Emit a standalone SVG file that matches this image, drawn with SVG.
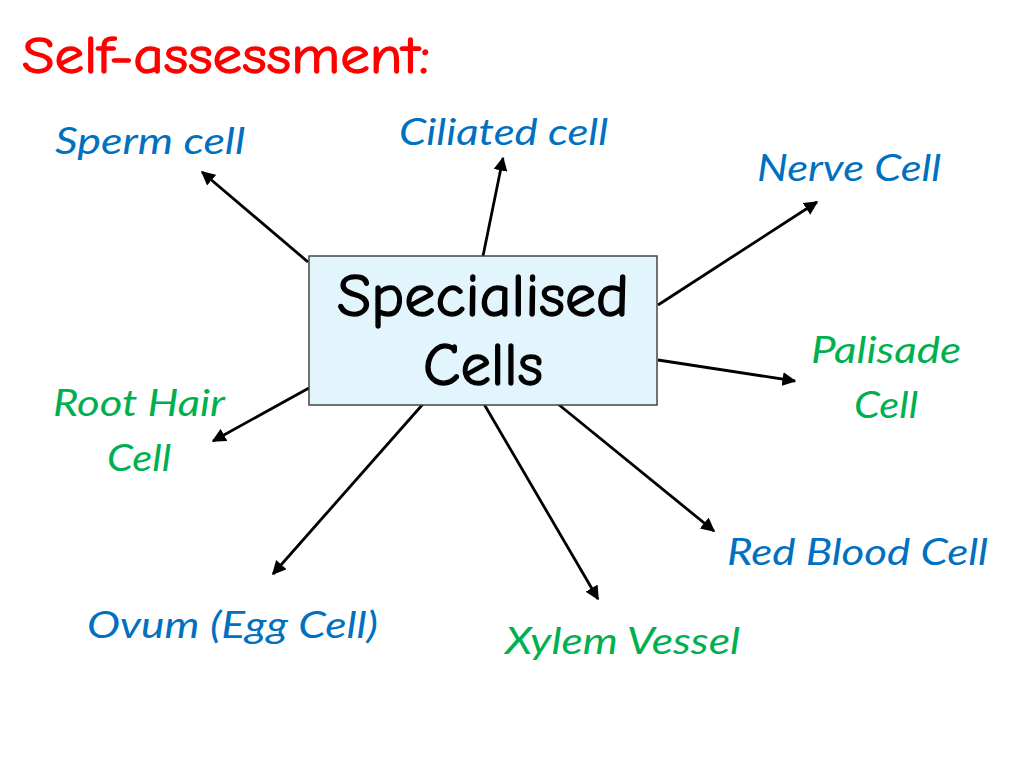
<svg xmlns="http://www.w3.org/2000/svg" width="1024" height="768" viewBox="0 0 1024 768">
<style>
.lbl{font-family:Lato,"Open Sans","Liberation Sans",sans-serif;font-style:italic;font-size:37px}
.blue{fill:#0070c0}
.green{fill:#00b050}
.title{font-family:"Comic Neue","DejaVu Sans","Liberation Sans",sans-serif;font-size:52px;fill:#ff0000;stroke:#ff0000;stroke-width:1.3}
.big{font-family:"Comic Neue","DejaVu Sans","Liberation Sans",sans-serif;font-size:60px;fill:#000;stroke:#000;stroke-width:1.4}
.conn{stroke:#000;stroke-width:2.8;fill:none;marker-end:url(#ah)}
</style>
<defs>
<marker id="ah" viewBox="0 0 10 10" refX="9" refY="5" markerWidth="5" markerHeight="5" orient="auto" markerUnits="strokeWidth">
<path d="M0,0 L10,5 L0,10 Z" fill="#000"/>
</marker>
</defs>
<rect width="1024" height="768" fill="#fff"/>
<text class="title" x="22" y="73" textLength="408" lengthAdjust="spacingAndGlyphs">Self-assessment:</text>
<g id="connectors">
<line class="conn" x1="308" y1="262" x2="202" y2="172"/>
<line class="conn" x1="483" y1="256" x2="503" y2="158"/>
<line class="conn" x1="658" y1="305" x2="817" y2="202"/>
<line class="conn" x1="658" y1="360" x2="795" y2="381"/>
<line class="conn" x1="309" y1="388" x2="213" y2="441"/>
<line class="conn" x1="423" y1="404" x2="273" y2="574"/>
<line class="conn" x1="484" y1="404" x2="598" y2="599"/>
<line class="conn" x1="558" y1="404" x2="714" y2="531"/>
</g>
<g id="center">
<rect x="309" y="256" width="348" height="149" fill="#e3f5fc" stroke="#444" stroke-width="1.5"/>
<text class="big" x="483" y="316" text-anchor="middle" textLength="292" lengthAdjust="spacingAndGlyphs">Specialised</text>
<text class="big" x="483" y="385" text-anchor="middle" textLength="120" lengthAdjust="spacingAndGlyphs">Cells</text>
</g>
<g id="sperm"><text class="lbl blue" x="55" y="154" textLength="190" lengthAdjust="spacingAndGlyphs">Sperm cell</text></g>
<g id="ciliated"><text class="lbl blue" x="399" y="145" textLength="209" lengthAdjust="spacingAndGlyphs">Ciliated cell</text></g>
<g id="nerve"><text class="lbl blue" x="757" y="181" textLength="184" lengthAdjust="spacingAndGlyphs">Nerve Cell</text></g>
<g id="palisade"><text class="lbl green" x="886" y="363" text-anchor="middle" textLength="150" lengthAdjust="spacingAndGlyphs">Palisade</text><text class="lbl green" x="886" y="418" text-anchor="middle" textLength="64" lengthAdjust="spacingAndGlyphs">Cell</text></g>
<g id="roothair"><text class="lbl green" x="139" y="416" text-anchor="middle" textLength="172" lengthAdjust="spacingAndGlyphs">Root Hair</text><text class="lbl green" x="139" y="471" text-anchor="middle" textLength="64" lengthAdjust="spacingAndGlyphs">Cell</text></g>
<g id="rbc"><text class="lbl blue" x="727" y="565" textLength="261" lengthAdjust="spacingAndGlyphs">Red Blood Cell</text></g>
<g id="ovum"><text class="lbl blue" x="87" y="638" textLength="291" lengthAdjust="spacingAndGlyphs">Ovum (Egg Cell)</text></g>
<g id="xylem"><text class="lbl green" x="505" y="654" textLength="235" lengthAdjust="spacingAndGlyphs">Xylem Vessel</text></g>
</svg>
